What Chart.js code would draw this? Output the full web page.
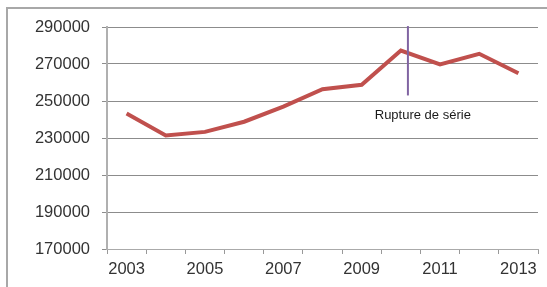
<!DOCTYPE html>
<html>
<head>
<meta charset="utf-8">
<script src="https://cdn.jsdelivr.net/npm/chart.js@4"></script>
<style>
    body { margin: 0; overflow: hidden; background: #fff; }
    .wrap { position: relative; width: 547px; height: 287px; overflow: hidden; }
    .frame { position: absolute; left: 6px; top: 7px; width: 600px; height: 400px; border-left: 2px solid #a8a8a8; border-top: 2px solid #a8a8a8; }
    canvas { position: absolute; left: 0; top: 0; }
</style>
</head>
<body>
<div class="wrap">
    <div class="frame"></div>
    <canvas id="chart" width="547" height="287"></canvas>
</div>
<script>
const years = ['2003', '2004', '2005', '2006', '2007', '2008', '2009', '2010', '2011', '2012', '2013'];
const values = [243200, 231400, 233300, 238800, 247000, 256400, 258800, 277300, 269800, 275500, 265000];
const yTicks = [170000, 190000, 210000, 230000, 250000, 270000, 290000];

// series break marker (x as fractional category index)
const breakAt = 7.18;
const breakRange = [290500, 253000];
const breakLabel = 'Rupture de série';
const breakLabelPos = [7.56, 242400];

const breakMarker = {
    id: 'breakMarker',
    afterDatasetsDraw(chart) {
        const { ctx, scales } = chart;
        const x = scales.x.getPixelForValue(breakAt);
        ctx.save();
        ctx.strokeStyle = '#8064a2';
        ctx.lineWidth = 2;
        ctx.beginPath();
        ctx.moveTo(x, scales.y.getPixelForValue(breakRange[0]));
        ctx.lineTo(x, scales.y.getPixelForValue(breakRange[1]));
        ctx.stroke();
        ctx.fillStyle = '#1a1a1a';
        ctx.font = '13px "Liberation Sans"';
        ctx.textAlign = 'center';
        ctx.textBaseline = 'middle';
        ctx.fillText(breakLabel, scales.x.getPixelForValue(breakLabelPos[0]), scales.y.getPixelForValue(breakLabelPos[1]));
        ctx.restore();
    }
};

const tickFont = { family: '"Liberation Sans"', size: 16.5 };

new Chart(document.getElementById('chart'), {
    type: 'line',
    data: {
        labels: years,
        datasets: [{
            data: values,
            borderColor: '#c0504d',
            borderWidth: 4,
            pointRadius: 0,
            tension: 0
        }]
    },
    options: {
        responsive: false,
        animation: false,
        layout: { padding: { left: 0, right: 9, top: 27, bottom: 0 } },
        plugins: { legend: { display: false }, tooltip: { enabled: false } },
        scales: {
            x: {
                offset: true,
                grid: { offset: true, drawOnChartArea: false, drawTicks: true, tickLength: 5, color: '#999' },
                border: { color: '#aaa', width: 1 },
                ticks: {
                    autoSkip: false,
                    maxRotation: 0,
                    padding: 6,
                    color: '#333',
                    font: tickFont,
                    callback: (v, i) => i % 2 === 0 ? years[i] : ''
                },
                afterFit: (s) => { s.height = 38; }
            },
            y: {
                min: 170000,
                max: 290000,
                afterBuildTicks: (s) => { s.ticks = yTicks.map(v => ({ value: v })); },
                grid: { color: '#8c8c8c', tickLength: 5, lineWidth: 1 },
                border: { color: '#b0b0b0', width: 2 },
                ticks: { padding: 12, color: '#333', font: tickFont, callback: (v) => String(v) },
                afterFit: (s) => { s.width = 107; }
            }
        }
    },
    plugins: [breakMarker]
});
</script>
</body>
</html>
